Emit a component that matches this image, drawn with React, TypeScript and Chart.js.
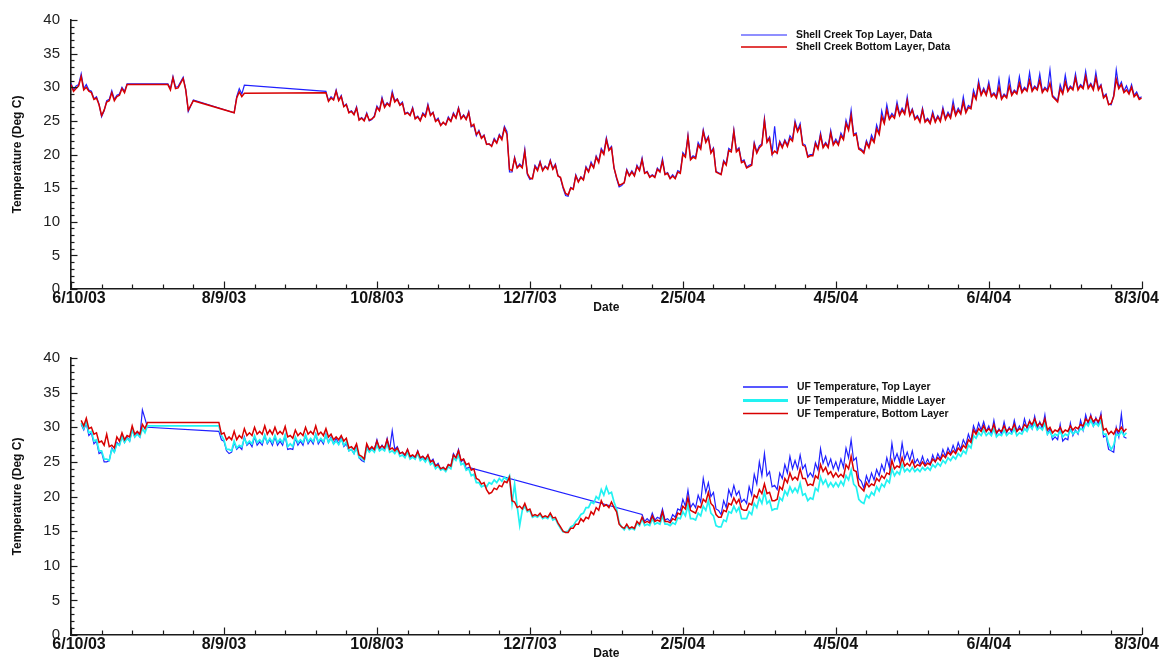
import React, { useEffect, useRef } from "react";
import { Chart, registerables } from "chart.js";

Chart.register(...registerables);

const N = null;

// Readings are listed on a day grid (days since 6/10/03):
// "...Even" arrays hold days 0,2,4,...,420; "...Odd" arrays hold days 1,3,5,...,419.
const dateTickDays = [0, 60, 120, 180, 240, 300, 360, 420];
const dateTickLabels = ["6/10/03", "8/9/03", "10/8/03", "12/7/03", "2/5/04", "4/5/04", "6/4/04", "8/3/04"];

// ---------- Shell Creek (top panel) ----------
const shellTopEven = [
  30.6, 30.2, 32.0, 30.4, 29.4, 28.6, 25.6, 28.0, 29.5, 28.8,
  30.0, 30.5, N, N, N, N, N, N, N, 30.5,
  31.6, 30.1, 31.5, 26.4, 28.1, N, N, N, N, N,
  N, N, 26.2, 29.8, 30.3, N, N, N, N, N,
  N, N, N, N, N, N, N, N, N, N,
  29.4, 28.6, 29.6, 28.8, 27.5, 26.5, 27.1, 25.5, 26.2, 25.2,
  27.2, 28.5, 27.7, 29.4, 28.3, 27.8, 26.3, 27.0, 25.7, 26.2,
  27.5, 26.3, 25.4, 24.7, 25.6, 26.2, 27.0, 25.9, 26.4, 24.3,
  23.6, 22.9, 21.5, 22.4, 23.0, 24.2, 17.4, 19.6, 18.6, 20.8,
  16.3, 18.4, 19.0, 18.3, 19.2, 18.6, 16.5, 13.9, 15.1, 17.0,
  16.7, 18.2, 18.9, 19.8, 20.9, 22.5, 21.2, 16.4, 15.4, 17.8,
  17.6, 18.4, 19.5, 17.5, 17.0, 18.0, 19.4, 17.3, 17.0, 17.6,
  20.3, 22.9, 19.8, 21.8, 23.7, 22.7, 21.0, 17.3, 19.1, 20.9,
  23.7, 21.0, 19.2, 18.4, 21.8, 21.3, 25.4, 22.6, 24.2, 22.0,
  22.2, 22.8, 25.0, 24.6, 21.4, 20.0, 21.9, 23.2, 21.8, 23.6,
  22.3, 23.2, 25.1, 26.6, 23.2, 20.8, 22.1, 22.9, 24.4, 26.5,
  27.4, 26.1, 27.8, 26.9, 28.6, 26.8, 25.8, 26.9, 25.4, 26.4,
  25.8, 27.0, 26.3, 28.0, 26.9, 28.6, 27.3, 29.6, 31.0, 29.9,
  30.8, 29.2, 31.2, 29.0, 31.4, 29.6, 31.6, 30.0, 32.2, 30.2,
  32.0, 30.0, 32.6, 28.4, 30.4, 31.8, 30.2, 32.0, 30.4, 32.4,
  30.6, 32.2, 30.4, 29.0, 27.4, 32.6, 30.8, 30.2, 30.4, 29.3,
  28.6,
];
const shellTopOdd = [
  29.6, 30.4, 29.8, 29.6, 28.3, 27.5, 26.5, 28.2, 28.2, 29.0,
  29.4, N, N, N, N, N, N, N, N, 29.8,
  30.0, 30.8, 29.7, N, N, N, N, N, N, N,
  N, N, 28.6, 29.0, N, N, N, N, N, N,
  N, N, N, N, N, N, N, N, N, N,
  28.0, 28.2, 28.1, 27.2, 26.3, 26.0, 25.2, 25.1, 25.0, 25.8,
  26.6, 27.2, 27.3, 28.0, 27.4, 26.1, 25.9, 25.4, 25.1, 25.8,
  25.9, 25.0, 24.4, 24.5, 25.0, 25.5, 25.4, 25.3, 24.1, 22.8,
  22.5, 21.6, 21.3, 21.8, 22.4, 23.4, 17.4, 18.1, 18.2, 17.0,
  16.5, 17.8, 17.7, 17.9, 17.9, 16.9, 15.0, 13.8, 14.9, 16.0,
  16.3, 17.5, 18.1, 19.0, 20.2, 20.8, 18.0, 15.2, 15.8, 16.9,
  16.9, 17.7, 17.3, 16.7, 16.7, 17.5, 17.1, 16.5, 16.5, 17.4,
  19.8, 19.4, 19.6, 21.0, 22.0, 20.4, 17.5, 17.1, 18.6, 20.6,
  20.6, 19.0, 18.1, 18.6, 20.4, 21.6, 22.0, 20.2, 20.4, 21.2,
  21.4, 22.2, 23.6, 21.6, 19.8, 20.0, 21.0, 21.2, 21.2, 21.6,
  21.6, 22.4, 23.8, 23.0, 21.0, 20.4, 21.2, 22.0, 23.2, 24.8,
  25.4, 25.6, 26.0, 26.2, 26.0, 25.4, 25.0, 25.0, 24.8, 25.0,
  25.1, 25.4, 25.6, 26.0, 26.2, 26.4, 27.0, 28.4, 29.0, 29.0,
  28.8, 28.6, 28.4, 28.6, 29.0, 29.2, 29.4, 29.6, 29.6, 29.8,
  29.4, 29.6, 28.8, 28.0, 29.2, 29.6, 29.8, 29.8, 30.0, 30.0,
  29.8, 29.8, 28.6, 27.5, 28.8, 30.0, 29.4, 29.2, 28.8, 28.4,
];

const shellBottomEven = [
  30.4, 29.8, 31.6, 30.0, 29.2, 28.4, 25.8, 27.8, 29.2, 28.6,
  29.8, 30.4, N, N, N, N, N, N, N, 30.4,
  31.4, 29.9, 31.3, 26.6, 28.0, N, N, N, N, N,
  N, N, 26.2, 29.3, 29.1, N, N, N, N, N,
  N, N, N, N, N, N, N, N, N, N,
  29.2, 28.4, 29.4, 28.6, 27.4, 26.4, 26.9, 25.4, 26.0, 25.3,
  27.0, 28.2, 27.6, 29.0, 28.2, 27.6, 26.2, 26.8, 25.6, 26.0,
  27.2, 26.2, 25.2, 24.8, 25.4, 26.0, 26.8, 25.8, 26.2, 24.5,
  23.4, 22.8, 21.6, 22.2, 22.8, 23.9, 17.8, 19.4, 18.4, 20.4,
  16.5, 18.2, 18.8, 18.2, 19.0, 18.4, 16.6, 14.2, 15.0, 16.8,
  16.6, 18.0, 18.6, 19.6, 20.6, 22.2, 21.0, 16.6, 15.6, 17.6,
  17.4, 18.2, 19.2, 17.4, 16.9, 17.8, 19.0, 17.2, 16.8, 17.4,
  20.0, 22.6, 19.6, 21.4, 23.4, 22.5, 20.8, 17.2, 18.9, 20.6,
  23.4, 20.8, 19.0, 18.2, 21.5, 21.0, 25.0, 22.4, 20.5, 21.8,
  22.0, 22.4, 24.6, 24.2, 21.2, 19.8, 21.6, 22.8, 21.6, 23.2,
  22.0, 22.8, 24.6, 25.8, 23.0, 20.6, 21.8, 22.4, 23.8, 25.6,
  26.6, 25.8, 27.2, 26.6, 28.0, 26.6, 25.6, 26.6, 25.2, 26.0,
  25.6, 26.6, 26.0, 27.2, 26.6, 27.8, 27.0, 29.0, 30.4, 29.6,
  30.2, 29.0, 30.0, 28.8, 30.2, 29.4, 30.6, 29.8, 31.0, 30.0,
  31.0, 29.8, 30.6, 28.2, 29.8, 30.8, 30.0, 31.4, 30.2, 31.6,
  30.4, 31.4, 30.2, 28.8, 27.6, 31.2, 30.4, 29.6, 30.0, 29.0,
  28.4,
];
const shellBottomOdd = [
  29.4, 30.2, 29.6, 29.4, 28.2, 27.4, 26.6, 28.0, 28.0, 28.8,
  29.2, N, N, N, N, N, N, N, N, 29.6,
  29.8, 30.6, 29.6, N, N, N, N, N, N, N,
  N, N, 28.4, 28.6, N, N, N, N, N, N,
  N, N, N, N, N, N, N, N, N, N,
  27.9, 28.1, 28.0, 27.1, 26.2, 25.9, 25.1, 25.0, 25.1, 25.6,
  26.5, 27.0, 27.2, 27.8, 27.3, 26.0, 25.8, 25.3, 25.0, 25.6,
  25.8, 24.9, 24.3, 24.4, 24.9, 25.4, 25.3, 25.2, 24.2, 23.0,
  22.4, 21.5, 21.2, 21.7, 22.2, 23.0, 17.6, 18.0, 18.0, 17.2,
  16.4, 17.6, 17.6, 17.8, 17.8, 16.8, 15.2, 14.0, 14.8, 15.9,
  16.2, 17.4, 18.0, 18.8, 20.0, 20.6, 18.0, 15.4, 15.8, 16.8,
  16.8, 17.6, 17.2, 16.6, 16.6, 17.4, 17.0, 16.4, 16.4, 17.2,
  19.6, 19.2, 19.4, 20.8, 21.8, 20.2, 17.4, 17.0, 18.4, 20.4,
  20.4, 18.8, 18.0, 18.4, 20.2, 21.4, 21.8, 20.0, 20.2, 21.0,
  21.2, 22.0, 23.4, 21.4, 19.6, 19.8, 20.8, 21.0, 21.0, 21.4,
  21.4, 22.2, 23.6, 22.8, 20.8, 20.2, 21.0, 21.8, 23.0, 24.6,
  25.2, 25.4, 25.8, 26.0, 25.8, 25.2, 24.8, 24.8, 24.6, 24.8,
  24.9, 25.2, 25.4, 25.8, 26.0, 26.2, 26.8, 28.2, 28.8, 28.8,
  28.6, 28.4, 28.2, 28.4, 28.8, 29.0, 29.2, 29.4, 29.4, 29.6,
  29.2, 29.4, 28.6, 27.8, 29.0, 29.4, 29.6, 29.6, 29.8, 29.8,
  29.6, 29.6, 28.4, 27.4, 28.6, 29.8, 29.2, 29.0, 28.6, 28.2,
];

// ---------- UF model (bottom panel) ----------
const ufTopEven = [
  N, N, 30.4, 30.6, 29.2, 28.0, 26.4, 25.0, 27.0, 27.8,
  28.8, 28.6, 29.8, 29.2, 32.5, 30.0, N, N, N, N,
  N, N, N, N, N, N, N, N, N, 29.4,
  28.0, 26.2, 27.8, 27.2, 28.6, 27.8, 28.6, 27.9, 28.8, 28.2,
  28.6, 28.0, 28.8, 26.9, 28.4, 28.0, 28.8, 28.2, 29.0, 28.2,
  29.0, 28.6, 28.4, 28.6, 27.6, 26.8, 27.4, 25.2, 27.4, 27.0,
  28.2, 27.4, 28.4, 29.5, 27.2, 26.4, 26.8, 25.9, 26.6, 25.8,
  26.0, 25.4, 24.8, 24.2, 24.6, 26.2, 26.8, 25.4, 24.2, N,
  N, N, N, N, N, N, N, N, N, N,
  N, N, N, N, N, N, N, N, N, N,
  N, N, N, N, N, N, N, N, N, N,
  N, N, 17.4, 16.8, 17.6, 17.0, 18.2, 16.8, 17.4, 18.2,
  19.6, 20.9, 19.0, 20.2, 22.6, 22.0, 20.6, 18.0, 19.4, 21.0,
  21.6, 20.8, 19.6, 21.4, 23.2, 25.0, 26.2, 23.6, 21.6, 23.4,
  24.6, 25.8, 25.2, 26.0, 24.6, 23.4, 24.8, 26.9, 25.8, 25.4,
  25.0, 25.4, 27.0, 28.2, 25.6, 22.2, 23.0, 23.4, 23.9, 24.6,
  25.6, 27.7, 26.2, 27.7, 26.4, 26.6, 25.4, 25.8, 25.4, 26.0,
  26.2, 26.8, 27.0, 27.4, 27.8, 28.2, 29.0, 30.2, 30.6, 30.8,
  30.2, 31.0, 29.8, 30.8, 30.0, 31.0, 30.2, 31.2, 31.0, 31.6,
  30.8, 31.8, 29.8, 28.6, 30.4, 28.4, 30.6, 29.6, 31.0, 31.8,
  31.8, 31.4, 32.0, 28.8, 26.6, 30.0, 31.9, 28.4, N, N,
  N,
];
const ufTopOdd = [
  N, N, 29.6, 28.8, 27.6, 26.2, 25.0, 25.2, 26.4, 27.4,
  27.8, 28.0, 28.6, 28.6, N, N, N, N, N, N,
  N, N, N, N, N, N, N, N, N, 28.2,
  26.6, 26.4, 26.8, 26.8, 27.4, 27.2, 27.4, 27.4, 27.6, 27.4,
  27.4, 27.4, 26.8, 26.8, 27.4, 27.4, 27.6, 27.6, 27.6, 27.6,
  27.8, 27.6, 27.6, 27.2, 26.6, 26.2, 25.6, 25.0, 26.6, 26.8,
  26.8, 26.8, 26.8, 26.8, 26.2, 25.8, 25.6, 25.6, 25.4, 25.2,
  25.0, 24.4, 23.9, 23.8, 24.4, 25.6, 25.0, 24.0, N, N,
  N, N, N, N, N, N, N, N, N, N,
  N, N, N, N, N, N, N, N, N, N,
  N, N, N, N, N, N, N, N, N, N,
  N, N, 16.4, 16.4, 16.6, 16.8, 16.6, 16.4, 17.0, 18.0,
  18.6, 18.4, 18.4, 19.2, 20.6, 20.0, 18.2, 17.4, 18.4, 20.0,
  20.2, 19.2, 19.0, 20.2, 21.8, 23.0, 23.0, 21.4, 21.0, 22.6,
  23.4, 24.0, 24.0, 24.0, 22.8, 22.8, 23.8, 24.8, 24.4, 24.0,
  23.8, 24.2, 25.6, 25.2, 22.6, 21.2, 22.0, 22.4, 23.0, 23.6,
  24.2, 25.2, 25.0, 25.4, 25.2, 24.8, 24.6, 24.6, 24.6, 25.0,
  25.4, 25.8, 26.2, 26.4, 26.8, 27.4, 28.0, 29.2, 29.6, 29.4,
  29.0, 29.0, 29.0, 29.2, 29.2, 29.4, 29.4, 29.8, 29.8, 29.8,
  29.8, 29.0, 28.2, 28.2, 28.0, 28.2, 28.8, 29.0, 29.6, 30.4,
  30.2, 30.4, 28.6, 26.8, 26.4, 28.6, 28.6, N, N, N,
];

const ufMiddleEven = [
  N, N, 30.6, 30.8, 29.4, 28.2, 26.6, 25.4, 26.8, 27.6,
  28.6, 28.4, 29.6, 29.0, 29.8, 30.2, N, N, N, N,
  N, N, N, N, N, N, N, N, N, 30.2,
  28.2, 26.8, 28.0, 27.4, 28.4, 28.0, 28.8, 28.2, 28.9, 28.4,
  28.8, 28.3, 28.9, 27.6, 28.6, 28.2, 28.9, 28.4, 29.0, 28.4,
  28.9, 28.4, 28.0, 28.3, 27.9, 26.8, 27.0, 25.6, 27.0, 26.8,
  27.4, 26.9, 27.6, 26.6, 26.8, 26.0, 26.4, 25.7, 26.2, 25.5,
  25.6, 24.9, 24.4, 24.0, 24.3, 25.6, 26.0, 24.8, 24.0, 23.2,
  22.0, 21.6, 22.0, 22.4, 22.6, 22.8, 23.0, 21.8, 15.8, 18.6,
  18.0, 17.2, 17.4, 17.0, 17.4, 16.8, 15.4, 14.9, 15.6, 16.4,
  17.4, 18.4, 19.2, 20.0, 21.0, 21.4, 20.6, 18.2, 15.6, 15.8,
  15.4, 16.2, 16.8, 16.0, 16.8, 16.2, 17.2, 16.0, 16.2, 16.9,
  17.8, 18.8, 16.8, 17.6, 18.6, 19.4, 17.2, 15.6, 16.6, 17.8,
  18.6, 18.4, 16.8, 17.8, 19.0, 19.8, 20.6, 19.4, 18.2, 19.8,
  20.8, 21.4, 21.2, 21.9, 20.4, 19.8, 21.2, 22.8, 22.4, 22.0,
  22.0, 22.2, 23.0, 23.8, 21.4, 19.2, 20.2, 20.6, 21.4, 21.8,
  22.4, 24.0, 23.6, 24.6, 24.0, 24.2, 24.0, 24.2, 24.2, 24.6,
  24.8, 25.2, 25.6, 25.8, 26.2, 26.6, 27.4, 28.8, 29.2, 29.6,
  29.2, 29.8, 29.0, 29.6, 29.2, 29.8, 29.2, 29.8, 30.2, 30.6,
  30.0, 30.6, 29.4, 29.0, 29.4, 29.0, 29.6, 29.4, 29.8, 30.6,
  31.0, 30.6, 31.0, 29.0, 26.8, 29.0, 29.4, 29.2, N, N,
  N,
];
const ufMiddleOdd = [
  N, N, 29.8, 29.2, 28.0, 26.6, 25.4, 25.2, 26.4, 27.4,
  27.8, 28.0, 28.6, 28.6, 29.2, N, N, N, N, N,
  N, N, N, N, N, N, N, N, N, 28.8,
  26.8, 26.6, 27.0, 27.2, 27.6, 27.6, 27.8, 27.8, 27.8, 27.8,
  27.8, 27.8, 27.2, 27.2, 27.8, 27.8, 27.9, 27.9, 27.9, 27.9,
  27.8, 27.6, 27.5, 27.4, 26.6, 26.2, 25.6, 25.2, 26.4, 26.4,
  26.6, 26.6, 26.4, 26.2, 25.8, 25.6, 25.4, 25.4, 25.2, 25.0,
  24.6, 24.0, 23.8, 23.6, 24.0, 25.2, 24.6, 23.8, 23.0, 22.0,
  21.4, 21.4, 21.8, 22.0, 22.2, 22.4, 19.0, 18.6, 18.0, 17.8,
  17.0, 17.0, 16.8, 16.8, 16.6, 16.0, 14.9, 15.0, 15.8, 16.8,
  17.6, 18.4, 19.0, 19.6, 20.2, 20.4, 19.2, 16.2, 15.2, 15.2,
  15.2, 15.8, 15.8, 15.8, 16.0, 16.0, 16.0, 15.8, 16.0, 16.8,
  17.2, 16.8, 16.6, 17.2, 18.0, 17.6, 15.8, 15.6, 16.4, 17.6,
  17.8, 16.8, 16.8, 17.4, 18.4, 19.0, 19.0, 18.0, 18.2, 19.4,
  20.2, 20.6, 20.6, 20.2, 19.4, 19.6, 20.8, 21.8, 21.4, 21.4,
  21.4, 21.6, 22.4, 21.8, 19.6, 19.0, 19.8, 20.2, 20.8, 21.4,
  22.0, 23.0, 23.2, 23.6, 23.6, 23.6, 23.6, 23.8, 23.8, 24.2,
  24.4, 24.8, 25.2, 25.4, 25.8, 26.2, 27.0, 28.4, 28.8, 28.8,
  28.8, 28.6, 28.8, 28.8, 29.0, 28.8, 29.0, 29.4, 29.8, 29.6,
  29.6, 29.0, 28.6, 28.8, 28.6, 28.8, 29.0, 29.2, 29.6, 30.2,
  30.2, 30.2, 29.0, 27.6, 27.4, 28.8, 28.8, N, N, N,
];

const ufBottomEven = [
  N, N, 31.0, 31.3, 30.0, 29.2, 28.0, 29.0, 27.4, 28.6,
  29.2, 28.8, 30.2, 29.4, 30.4, 30.7, N, N, N, N,
  N, N, N, N, N, N, N, N, N, 30.7,
  29.2, 28.6, 29.4, 28.8, 29.8, 29.2, 30.0, 29.4, 30.2, 29.6,
  30.0, 29.4, 30.1, 28.8, 29.6, 29.2, 30.0, 29.4, 30.2, 29.3,
  29.8, 29.0, 28.6, 28.8, 28.4, 27.2, 27.6, 25.8, 27.6, 27.2,
  28.0, 27.3, 28.2, 27.0, 27.0, 26.4, 26.8, 26.0, 26.5, 25.8,
  26.0, 25.2, 24.6, 24.2, 24.6, 26.0, 26.6, 25.4, 24.8, 24.0,
  22.4, 22.0, 20.4, 21.2, 21.6, 22.2, 22.8, 19.2, 18.6, 19.0,
  18.2, 17.4, 17.6, 17.2, 17.6, 17.0, 15.6, 14.8, 15.4, 16.0,
  16.8, 17.0, 17.8, 18.4, 19.4, 18.8, 19.2, 17.8, 15.6, 16.0,
  15.6, 16.4, 17.0, 16.4, 17.2, 16.6, 17.8, 16.4, 16.8, 17.6,
  18.6, 19.8, 17.8, 18.6, 19.6, 20.6, 18.6, 17.0, 18.0, 19.0,
  19.8, 19.6, 18.0, 19.0, 20.2, 21.0, 21.8, 20.6, 19.4, 21.4,
  22.6, 23.4, 22.8, 24.0, 22.6, 21.8, 23.0, 24.6, 24.2, 23.6,
  23.4, 23.2, 24.6, 25.8, 23.6, 21.2, 22.0, 21.8, 22.6, 23.0,
  23.4, 25.2, 24.4, 25.6, 24.8, 25.2, 24.6, 25.0, 24.8, 25.4,
  25.6, 26.0, 26.4, 26.6, 27.0, 27.4, 28.2, 29.6, 29.8, 30.2,
  29.8, 30.4, 29.6, 30.2, 29.8, 30.4, 29.8, 30.4, 30.8, 31.2,
  30.6, 31.2, 30.0, 29.6, 30.0, 29.6, 30.2, 30.0, 30.4, 31.2,
  31.6, 31.2, 31.6, 29.8, 29.4, 29.8, 30.0, 29.8, N, N,
  N,
];
const ufBottomOdd = [
  N, N, 30.2, 29.8, 29.0, 27.8, 27.4, 27.2, 27.0, 28.0,
  28.2, 28.6, 29.0, 29.0, 29.8, N, N, N, N, N,
  N, N, N, N, N, N, N, N, N, 29.0,
  28.2, 28.2, 28.2, 28.4, 28.8, 28.8, 29.0, 29.0, 29.0, 29.0,
  29.0, 29.0, 28.6, 28.4, 28.8, 28.8, 29.0, 29.0, 28.9, 28.8,
  28.6, 28.2, 28.2, 28.0, 27.0, 26.8, 26.0, 25.4, 26.8, 26.8,
  27.0, 27.0, 26.8, 26.6, 26.2, 26.0, 25.8, 25.7, 25.6, 25.4,
  25.0, 24.4, 24.0, 23.9, 24.4, 25.6, 25.2, 24.6, 23.8, 22.6,
  21.8, 21.0, 20.6, 21.0, 21.4, 22.0, 19.4, 18.4, 18.2, 18.0,
  17.2, 17.2, 17.0, 17.0, 16.9, 16.2, 15.0, 14.8, 15.4, 16.0,
  16.4, 16.8, 17.4, 18.0, 18.6, 18.4, 18.4, 16.0, 15.4, 15.4,
  15.4, 16.0, 16.2, 16.2, 16.4, 16.4, 16.4, 16.2, 16.6, 17.4,
  18.2, 18.0, 17.6, 18.4, 19.2, 19.0, 17.4, 17.0, 17.8, 18.8,
  19.0, 18.2, 18.0, 18.8, 19.8, 20.4, 20.4, 19.4, 19.6, 21.0,
  22.0, 22.4, 22.4, 22.6, 21.6, 21.6, 22.6, 23.6, 23.2, 22.8,
  22.8, 22.8, 24.0, 23.8, 21.6, 20.8, 21.4, 21.6, 22.2, 22.6,
  23.2, 24.0, 24.2, 24.4, 24.4, 24.2, 24.4, 24.4, 24.6, 25.0,
  25.2, 25.6, 26.0, 26.2, 26.6, 27.0, 27.8, 29.0, 29.4, 29.4,
  29.4, 29.2, 29.4, 29.4, 29.6, 29.4, 29.6, 30.0, 30.4, 30.2,
  30.2, 29.6, 29.2, 29.4, 29.2, 29.4, 29.6, 29.8, 30.2, 30.8,
  30.8, 30.8, 29.6, 29.0, 29.0, 29.4, 29.4, N, N, N,
];

// Builds the {x: day, y} table that Chart.js needs from the even/odd day readings.
function dayTable(even: (number | null)[], odd: (number | null)[]) {
  const pts: { x: number; y: number | null }[] = [];
  for (let i = 0; i < even.length; i++) {
    pts.push({ x: i * 2, y: even[i] });
    if (i < odd.length) pts.push({ x: i * 2 + 1, y: odd[i] });
  }
  return pts;
}

const FONT = '"Liberation Sans", Arial, Helvetica, sans-serif';
const AXIS_COLOR = "#1a1a1a";

type Series = {
  label: string;
  even: (number | null)[];
  odd: (number | null)[];
  color: string;
  width: number;
  legendWidth: number;
  order: number;
};

const topSeries: Series[] = [
  { label: "Shell Creek Top Layer, Data", even: shellTopEven, odd: shellTopOdd, color: "#2020ff", width: 1.2, legendWidth: 1.2, order: 1 },
  { label: "Shell Creek Bottom Layer, Data", even: shellBottomEven, odd: shellBottomOdd, color: "#d80000", width: 1.5, legendWidth: 1.6, order: 0 },
];

const bottomSeries: Series[] = [
  { label: "UF Temperature, Top Layer", even: ufTopEven, odd: ufTopOdd, color: "#2020ff", width: 1.2, legendWidth: 1.4, order: 2 },
  { label: "UF Temperature, Middle Layer", even: ufMiddleEven, odd: ufMiddleOdd, color: "#22f2f2", width: 1.7, legendWidth: 3, order: 1 },
  { label: "UF Temperature, Bottom Layer", even: ufBottomEven, odd: ufBottomOdd, color: "#d80000", width: 1.5, legendWidth: 1.6, order: 0 },
];

const innerTicks = {
  id: "innerTicks",
  afterDraw(chart: any) {
    const { ctx, chartArea, scales } = chart;
    const x = scales.x;
    const y = scales.y;
    ctx.save();
    ctx.strokeStyle = AXIS_COLOR;
    ctx.lineWidth = 1.2;
    for (let v = 0; v <= 40; v += 1) {
      const py = Math.round(y.getPixelForValue(v)) + 0.5;
      const len = v % 5 === 0 ? 6.5 : 3.5;
      ctx.beginPath();
      ctx.moveTo(chartArea.left, py);
      ctx.lineTo(chartArea.left + len, py);
      ctx.stroke();
    }
    for (let d = 0; d <= 420; d += 12) {
      const px = Math.round(x.getPixelForValue(d)) + 0.5;
      const len = d % 60 === 0 ? 7.5 : 4.5;
      ctx.beginPath();
      ctx.moveTo(px, chartArea.bottom);
      ctx.lineTo(px, chartArea.bottom - len);
      ctx.stroke();
    }
    ctx.restore();
  },
};

const shiftEdgeLabels = {
  id: "shiftEdgeLabels",
  beforeDraw(chart: any) {
    const sx: any = chart.scales.x;
    try {
      const items = sx.getLabelItems(chart.chartArea);
      if (items && items.length && !items._shifted) {
        items[0].options.translation[0] += 8;
        items[items.length - 1].options.translation[0] -= 5;
        items._shifted = true;
      }
    } catch (e) {
      /* ignore */
    }
  },
};

function makeLegend(x0: number, x1: number, textX: number, rowY: number[]) {
  return {
    id: "customLegend",
    afterDraw(chart: any) {
      const { ctx } = chart;
      ctx.save();
      ctx.font = `bold 10.4px ${FONT}`;
      ctx.textBaseline = "middle";
      ctx.textAlign = "left";
      chart.data.datasets.forEach((ds: any, i: number) => {
        const yy = rowY[i];
        ctx.strokeStyle = ds.borderColor;
        ctx.lineWidth = ds.legendWidth;
        ctx.beginPath();
        ctx.moveTo(x0, yy);
        ctx.lineTo(x1, yy);
        ctx.stroke();
        ctx.fillStyle = "#111";
        ctx.fillText(ds.label, textX, yy + 0.5);
      });
      ctx.restore();
    },
  };
}

type PanelProps = {
  series: Series[];
  top: number;
  height: number;
  padTop: number;
  xAxisHeight: number;
  datePad: number;
  legend: any;
};

function Panel({ series, top, height, padTop, xAxisHeight, datePad, legend }: PanelProps) {
  const ref = useRef<HTMLCanvasElement>(null);
  useEffect(() => {
    if (!ref.current) return;
    const chart = new Chart(ref.current, {
      type: "line",
      data: {
        datasets: series.map((s) => ({
          label: s.label,
          data: dayTable(s.even, s.odd),
          borderColor: s.color,
          backgroundColor: s.color,
          borderWidth: s.width,
          legendWidth: s.legendWidth,
          pointRadius: 0,
          tension: 0,
          spanGaps: true,
          fill: false,
          order: s.order,
          borderJoinStyle: "miter",
        })) as any,
      },
      options: {
        animation: false,
        responsive: false,
        maintainAspectRatio: false,
        events: [],
        layout: { padding: { top: padTop, right: 22, left: 0, bottom: 0 } },
        plugins: { legend: { display: false }, tooltip: { enabled: false } },
        scales: {
          x: {
            type: "linear",
            min: 0,
            max: 420,
            afterFit: (s: any) => {
              s.height = xAxisHeight;
            },
            grid: { display: false, drawTicks: false },
            border: { display: true, color: AXIS_COLOR, width: 1.6 },
            ticks: {
              stepSize: 60,
              autoSkip: false,
              maxRotation: 0,
              minRotation: 0,
              padding: 0,
              color: "#111",
              font: { family: FONT, size: 16, weight: "bold" },
              callback: (v: any) => {
                const i = dateTickDays.indexOf(Number(v));
                return i >= 0 ? dateTickLabels[i] : "";
              },
            },
            title: {
              display: true,
              text: "Date",
              color: "#111",
              font: { family: FONT, size: 12, weight: "bold" },
              padding: { top: 0, bottom: datePad },
            },
          },
          y: {
            type: "linear",
            min: 0,
            max: 40,
            afterFit: (s: any) => {
              s.width = 71;
            },
            grid: { display: false, drawTicks: false },
            border: { display: true, color: AXIS_COLOR, width: 1.6 },
            ticks: {
              stepSize: 5,
              padding: 11,
              color: "#222",
              font: { family: FONT, size: 15 },
            },
            title: {
              display: true,
              text: "Temperature (Deg C)",
              color: "#111",
              font: { family: FONT, size: 12, weight: "bold" },
              padding: { top: 10, bottom: 0 },
            },
          },
        },
      } as any,
      plugins: [innerTicks, shiftEdgeLabels, legend],
    });
    return () => chart.destroy();
  }, []);
  return (
    <canvas
      ref={ref}
      width={1164}
      height={height}
      style={{ position: "absolute", left: 0, top, width: 1164, height, display: "block" }}
    />
  );
}

export default function App() {
  return (
    <div
      style={{
        position: "absolute",
        left: 0,
        top: 0,
        width: 1164,
        height: 659,
        overflow: "hidden",
        background: "#ffffff",
      }}
    >
      <Panel
        series={topSeries}
        top={0}
        height={329}
        padTop={12}
        xAxisHeight={40}
        datePad={14}
        legend={makeLegend(741, 787, 796, [35, 47])}
      />
      <Panel
        series={bottomSeries}
        top={329}
        height={330}
        padTop={29}
        xAxisHeight={24}
        datePad={-2}
        legend={makeLegend(743, 788, 797, [58, 71.5, 84.5])}
      />
    </div>
  );
}
